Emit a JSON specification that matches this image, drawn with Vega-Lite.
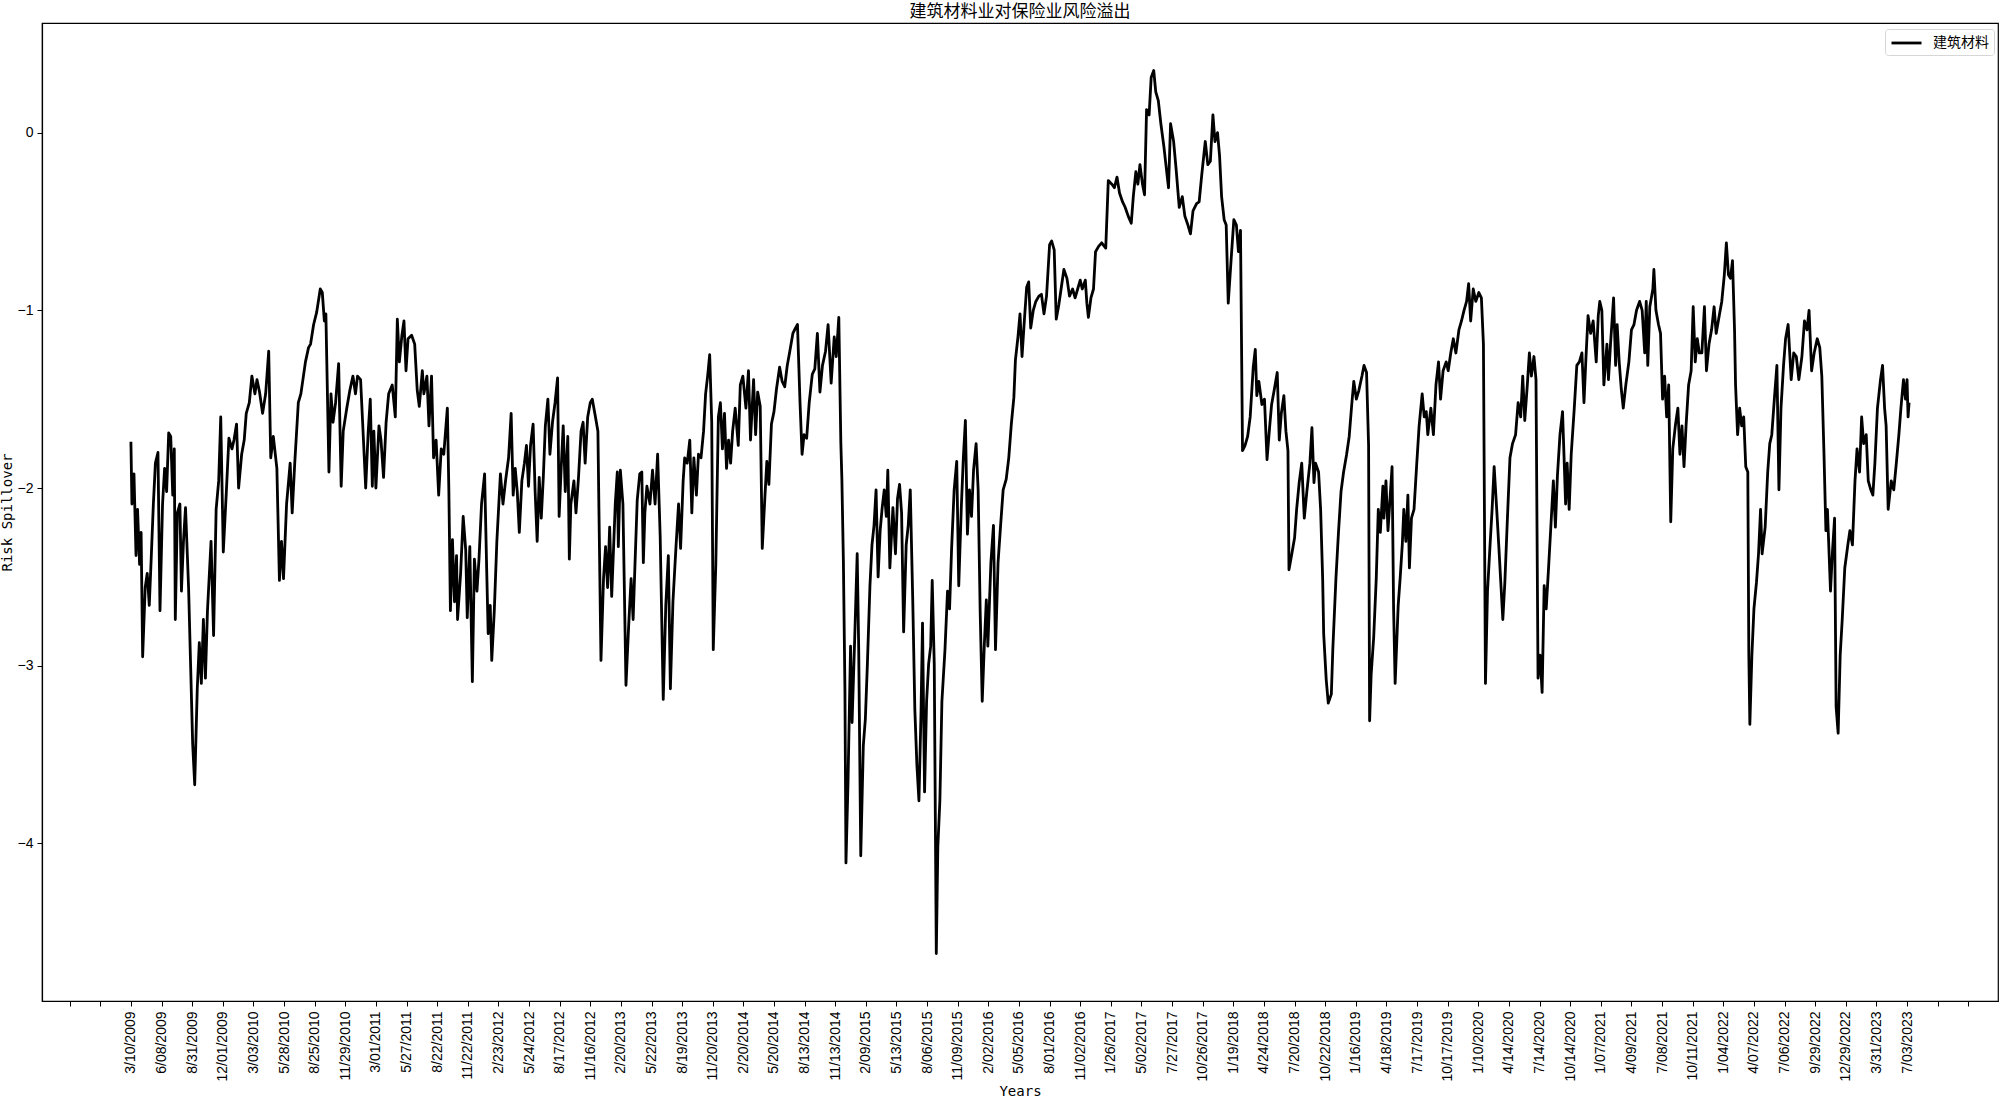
{
"$schema": "https://vega.github.io/schema/vega-lite/v6.json",
"width": 1956,
"height": 978,
"autosize": {"type": "none"},
"padding": {"left": 42, "top": 23, "right": 2, "bottom": 96},
"background": "white",
"title": {"text": "建筑材料业对保险业风险溢出", "font": "Noto Sans CJK SC", "fontSize": 17, "fontWeight": "normal", "color": "black", "anchor": "middle", "baseline": "top", "offset": 2},
"config": {
  "view": {"stroke": "black", "strokeWidth": 1.2},
  "axis": {"grid": false, "domainColor": "black", "domainWidth": 1.2, "tickColor": "black", "tickWidth": 1, "tickSize": 5, "labelColor": "black", "labelFont": "Liberation Sans", "labelFontSize": 14, "titleColor": "black", "titleFont": "DejaVu Sans Mono", "titleFontSize": 14, "titleFontWeight": "normal", "labelOverlap": false, "labelBound": false, "labelFlush": false}
},
"data": {"values": [
{"i":0,"v":-1.74},{"i":2,"v":-2.09},{"i":6,"v":-1.92},{"i":10,"v":-2.38},{"i":13,"v":-2.12},{"i":17,"v":-2.43},{"i":20,"v":-2.25},{"i":23,"v":-2.95},{"i":28,"v":-2.56},{"i":32,"v":-2.48},{"i":36,"v":-2.66},{"i":40,"v":-2.38},{"i":44,"v":-2.09},{"i":48,"v":-1.86},{"i":53,"v":-1.80},{"i":57,"v":-2.69},{"i":62,"v":-2.09},{"i":66,"v":-1.89},{"i":70,"v":-2.02},{"i":74,"v":-1.69},{"i":78,"v":-1.71},{"i":82,"v":-2.04},{"i":85,"v":-1.78},{"i":87,"v":-2.74},{"i":91,"v":-2.14},{"i":96,"v":-2.09},{"i":99,"v":-2.58},{"i":103,"v":-2.30},{"i":107,"v":-2.11},{"i":113,"v":-2.56},{"i":117,"v":-3.00},{"i":121,"v":-3.44},{"i":125,"v":-3.67},{"i":130,"v":-3.13},{"i":134,"v":-2.87},{"i":138,"v":-3.10},{"i":142,"v":-2.74},{"i":146,"v":-3.07},{"i":150,"v":-2.69},{"i":157,"v":-2.30},{"i":162,"v":-2.83},{"i":167,"v":-2.12},{"i":172,"v":-1.96},{"i":176,"v":-1.60},{"i":181,"v":-2.36},{"i":187,"v":-2.02},{"i":192,"v":-1.72},{"i":198,"v":-1.78},{"i":202,"v":-1.73},{"i":207,"v":-1.64},{"i":211,"v":-2.00},{"i":217,"v":-1.81},{"i":222,"v":-1.73},{"i":226,"v":-1.58},{"i":232,"v":-1.52},{"i":237,"v":-1.37},{"i":243,"v":-1.47},{"i":247,"v":-1.39},{"i":252,"v":-1.46},{"i":258,"v":-1.58},{"i":264,"v":-1.47},{"i":270,"v":-1.23},{"i":274,"v":-1.83},{"i":279,"v":-1.71},{"i":286,"v":-1.89},{"i":291,"v":-2.52},{"i":295,"v":-2.30},{"i":299,"v":-2.51},{"i":305,"v":-2.09},{"i":312,"v":-1.86},{"i":316,"v":-2.14},{"i":321,"v":-1.86},{"i":328,"v":-1.52},{"i":333,"v":-1.47},{"i":342,"v":-1.29},{"i":348,"v":-1.21},{"i":352,"v":-1.19},{"i":358,"v":-1.08},{"i":364,"v":-1.01},{"i":371,"v":-0.88},{"i":375,"v":-0.90},{"i":379,"v":-1.06},{"i":382,"v":-1.02},{"i":388,"v":-1.91},{"i":392,"v":-1.47},{"i":396,"v":-1.63},{"i":401,"v":-1.52},{"i":407,"v":-1.30},{"i":412,"v":-1.99},{"i":416,"v":-1.68},{"i":423,"v":-1.55},{"i":429,"v":-1.45},{"i":435,"v":-1.37},{"i":440,"v":-1.47},{"i":444,"v":-1.37},{"i":450,"v":-1.39},{"i":454,"v":-1.63},{"i":460,"v":-2.00},{"i":465,"v":-1.68},{"i":469,"v":-1.50},{"i":473,"v":-1.99},{"i":476,"v":-1.68},{"i":480,"v":-2.00},{"i":486,"v":-1.65},{"i":490,"v":-1.73},{"i":495,"v":-1.94},{"i":500,"v":-1.63},{"i":505,"v":-1.47},{"i":512,"v":-1.42},{"i":518,"v":-1.60},{"i":522,"v":-1.05},{"i":526,"v":-1.29},{"i":531,"v":-1.14},{"i":535,"v":-1.06},{"i":539,"v":-1.34},{"i":543,"v":-1.16},{"i":550,"v":-1.14},{"i":556,"v":-1.19},{"i":561,"v":-1.45},{"i":565,"v":-1.54},{"i":571,"v":-1.34},{"i":574,"v":-1.47},{"i":580,"v":-1.37},{"i":584,"v":-1.65},{"i":589,"v":-1.37},{"i":593,"v":-1.83},{"i":598,"v":-1.73},{"i":603,"v":-2.04},
{"i":608,"v":-1.78},{"i":613,"v":-1.81},{"i":620,"v":-1.55},{"i":623,"v":-2.02},{"i":626,"v":-2.69},{"i":630,"v":-2.29},{"i":634,"v":-2.64},{"i":638,"v":-2.38},{"i":640,"v":-2.74},{"i":646,"v":-2.48},{"i":651,"v":-2.16},{"i":656,"v":-2.35},{"i":659,"v":-2.73},{"i":664,"v":-2.33},{"i":669,"v":-3.09},{"i":673,"v":-2.40},{"i":678,"v":-2.58},{"i":682,"v":-2.40},{"i":687,"v":-2.09},{"i":693,"v":-1.92},{"i":697,"v":-2.45},{"i":700,"v":-2.82},{"i":704,"v":-2.66},{"i":707,"v":-2.97},{"i":712,"v":-2.69},{"i":717,"v":-2.30},{"i":724,"v":-1.92},{"i":729,"v":-2.09},{"i":734,"v":-1.96},{"i":740,"v":-1.83},{"i":745,"v":-1.58},{"i":749,"v":-2.04},{"i":753,"v":-1.89},{"i":757,"v":-2.02},{"i":761,"v":-2.25},{"i":766,"v":-1.96},{"i":771,"v":-1.86},{"i":775,"v":-1.76},{"i":779,"v":-1.99},{"i":783,"v":-1.76},{"i":788,"v":-1.64},{"i":792,"v":-2.02},{"i":796,"v":-2.30},{"i":800,"v":-1.94},{"i":804,"v":-2.17},{"i":808,"v":-1.94},{"i":812,"v":-1.65},{"i":817,"v":-1.50},{"i":821,"v":-1.81},{"i":826,"v":-1.63},{"i":831,"v":-1.52},{"i":836,"v":-1.38},{"i":839,"v":-2.16},{"i":843,"v":-1.89},{"i":847,"v":-1.65},{"i":851,"v":-2.02},{"i":856,"v":-1.71},{"i":859,"v":-2.40},{"i":862,"v":-2.09},{"i":868,"v":-1.96},{"i":872,"v":-2.14},{"i":877,"v":-1.94},{"i":882,"v":-1.68},{"i":886,"v":-1.63},{"i":890,"v":-1.86},{"i":895,"v":-1.60},{"i":900,"v":-1.52},{"i":904,"v":-1.50},{"i":909,"v":-1.58},{"i":915,"v":-1.68},{"i":917,"v":-2.12},{"i":921,"v":-2.97},{"i":926,"v":-2.51},{"i":930,"v":-2.33},{"i":934,"v":-2.56},{"i":938,"v":-2.22},{"i":942,"v":-2.61},{"i":949,"v":-2.09},{"i":953,"v":-1.91},{"i":955,"v":-2.33},{"i":959,"v":-1.90},{"i":964,"v":-2.09},{"i":970,"v":-3.11},{"i":975,"v":-2.79},{"i":980,"v":-2.51},{"i":984,"v":-2.74},{"i":988,"v":-2.40},{"i":992,"v":-2.07},{"i":997,"v":-1.92},{"i":1001,"v":-1.91},{"i":1004,"v":-2.42},{"i":1007,"v":-2.14},{"i":1011,"v":-1.99},{"i":1017,"v":-2.09},{"i":1022,"v":-1.90},{"i":1027,"v":-2.09},{"i":1032,"v":-1.81},{"i":1037,"v":-2.27},{"i":1043,"v":-3.19},{"i":1048,"v":-2.66},{"i":1053,"v":-2.38},{"i":1057,"v":-3.13},{"i":1062,"v":-2.64},{"i":1068,"v":-2.33},{"i":1073,"v":-2.09},{"i":1077,"v":-2.34},{"i":1082,"v":-1.96},{"i":1085,"v":-1.83},{"i":1090,"v":-1.86},{"i":1095,"v":-1.73},{"i":1099,"v":-2.14},{"i":1103,"v":-1.83},{"i":1108,"v":-2.04},{"i":1112,"v":-1.81},{"i":1117,"v":-1.83},{"i":1122,"v":-1.68},{"i":1126,"v":-1.47},{"i":1130,"v":-1.37},{"i":1134,"v":-1.25},{"i":1138,"v":-1.63},{"i":1141,"v":-2.91},{"i":1146,"v":-2.43},{"i":1151,"v":-1.60},{"i":1155,"v":-1.52},{"i":1159,"v":-1.78},{"i":1163,"v":-1.58},{"i":1167,"v":-1.89},{"i":1171,"v":-1.73},{"i":1175,"v":-1.86},{"i":1179,"v":-1.68},{"i":1184,"v":-1.55},{"i":1190,"v":-1.76},{"i":1194,"v":-1.42},{"i":1199,"v":-1.37},{"i":1205,"v":-1.55},{"i":1210,"v":-1.34},{"i":1214,"v":-1.73},{"i":1220,"v":-1.39},
{"i":1224,"v":-1.70},{"i":1228,"v":-1.46},{"i":1233,"v":-1.54},{"i":1237,"v":-2.34},{"i":1242,"v":-2.06},{"i":1246,"v":-1.85},{"i":1250,"v":-1.98},{"i":1255,"v":-1.64},{"i":1260,"v":-1.57},{"i":1265,"v":-1.44},{"i":1271,"v":-1.32},{"i":1276,"v":-1.40},{"i":1281,"v":-1.43},{"i":1286,"v":-1.31},{"i":1291,"v":-1.23},{"i":1297,"v":-1.13},{"i":1302,"v":-1.10},{"i":1306,"v":-1.08},{"i":1311,"v":-1.52},{"i":1315,"v":-1.81},{"i":1319,"v":-1.70},{"i":1324,"v":-1.72},{"i":1329,"v":-1.52},{"i":1335,"v":-1.36},{"i":1340,"v":-1.33},{"i":1345,"v":-1.13},{"i":1350,"v":-1.46},{"i":1355,"v":-1.31},{"i":1361,"v":-1.23},{"i":1366,"v":-1.08},{"i":1372,"v":-1.41},{"i":1378,"v":-1.15},{"i":1382,"v":-1.26},{"i":1387,"v":-1.04},{"i":1391,"v":-1.75},{"i":1393,"v":-1.95},{"i":1396,"v":-2.42},{"i":1399,"v":-3.14},{"i":1401,"v":-4.11},{"i":1405,"v":-3.66},{"i":1410,"v":-2.89},{"i":1413,"v":-3.32},{"i":1418,"v":-2.86},{"i":1423,"v":-2.37},{"i":1426,"v":-2.91},{"i":1430,"v":-4.07},{"i":1435,"v":-3.45},{"i":1439,"v":-3.30},{"i":1443,"v":-2.99},{"i":1448,"v":-2.55},{"i":1452,"v":-2.32},{"i":1456,"v":-2.21},{"i":1460,"v":-2.01},{"i":1464,"v":-2.50},{"i":1468,"v":-2.24},{"i":1472,"v":-2.11},{"i":1476,"v":-2.01},{"i":1480,"v":-2.16},{"i":1483,"v":-1.90},{"i":1487,"v":-2.45},{"i":1493,"v":-2.11},{"i":1498,"v":-2.37},{"i":1502,"v":-2.06},{"i":1506,"v":-1.98},{"i":1510,"v":-2.14},{"i":1514,"v":-2.81},{"i":1519,"v":-2.32},{"i":1523,"v":-2.21},{"i":1527,"v":-2.01},{"i":1532,"v":-2.65},{"i":1536,"v":-3.25},{"i":1540,"v":-3.56},{"i":1544,"v":-3.76},{"i":1548,"v":-3.27},{"i":1551,"v":-2.76},{"i":1555,"v":-3.71},{"i":1559,"v":-3.20},{"i":1563,"v":-2.99},{"i":1567,"v":-2.89},{"i":1570,"v":-2.52},{"i":1574,"v":-2.99},{"i":1578,"v":-4.62},{"i":1581,"v":-4.02},{"i":1585,"v":-3.76},{"i":1589,"v":-3.20},{"i":1595,"v":-2.91},{"i":1600,"v":-2.58},{"i":1604,"v":-2.68},{"i":1608,"v":-2.34},{"i":1613,"v":-2.01},{"i":1618,"v":-1.85},{"i":1622,"v":-2.55},{"i":1627,"v":-2.11},{"i":1631,"v":-1.83},{"i":1635,"v":-1.62},{"i":1639,"v":-2.26},{"i":1643,"v":-2.01},{"i":1647,"v":-2.16},{"i":1651,"v":-1.90},{"i":1656,"v":-1.75},{"i":1660,"v":-2.01},{"i":1664,"v":-2.70},{"i":1668,"v":-3.20},{"i":1672,"v":-2.89},{"i":1676,"v":-2.63},{"i":1679,"v":-2.89},{"i":1685,"v":-2.42},{"i":1690,"v":-2.21},{"i":1694,"v":-2.91},{"i":1699,"v":-2.42},{"i":1704,"v":-2.21},{"i":1709,"v":-2.01},{"i":1715,"v":-1.95},{"i":1720,"v":-1.83},{"i":1725,"v":-1.64},{"i":1730,"v":-1.49},{"i":1733,"v":-1.28},{"i":1738,"v":-1.15},{"i":1742,"v":-1.02},{"i":1746,"v":-1.26},{"i":1750,"v":-1.08},{"i":1755,"v":-0.87},{"i":1759,"v":-0.84},{"i":1763,"v":-1.10},{"i":1768,"v":-1.00},{"i":1773,"v":-0.95},{"i":1779,"v":-0.92},{"i":1784,"v":-0.91},{"i":1789,"v":-1.02},{"i":1794,"v":-0.92},{"i":1800,"v":-0.63},{"i":1804,"v":-0.61},{"i":1809,"v":-0.66},{"i":1813,"v":-1.05},{"i":1818,"v":-0.97},{"i":1823,"v":-0.87},{"i":1828,"v":-0.77},{"i":1834,"v":-0.82},{"i":1839,"v":-0.92},
{"i":1845,"v":-0.88},{"i":1850,"v":-0.93},{"i":1855,"v":-0.88},{"i":1860,"v":-0.83},{"i":1864,"v":-0.88},{"i":1870,"v":-0.83},{"i":1873,"v":-0.96},{"i":1876,"v":-1.04},{"i":1881,"v":-0.93},{"i":1886,"v":-0.88},{"i":1890,"v":-0.67},{"i":1896,"v":-0.64},{"i":1902,"v":-0.62},{"i":1910,"v":-0.65},{"i":1915,"v":-0.27},{"i":1922,"v":-0.29},{"i":1927,"v":-0.31},{"i":1932,"v":-0.25},{"i":1937,"v":-0.34},{"i":1943,"v":-0.39},{"i":1948,"v":-0.42},{"i":1954,"v":-0.47},{"i":1960,"v":-0.51},{"i":1964,"v":-0.36},{"i":1969,"v":-0.22},{"i":1973,"v":-0.29},{"i":1977,"v":-0.18},{"i":1982,"v":-0.29},{"i":1986,"v":-0.35},{"i":1990,"v":0.13},{"i":1995,"v":0.10},{"i":1999,"v":0.31},{"i":2004,"v":0.35},{"i":2008,"v":0.23},{"i":2013,"v":0.18},{"i":2018,"v":0.05},{"i":2024,"v":-0.08},{"i":2029,"v":-0.21},{"i":2033,"v":-0.31},{"i":2037,"v":0.05},{"i":2043,"v":-0.05},{"i":2048,"v":-0.21},{"i":2054,"v":-0.42},{"i":2060,"v":-0.36},{"i":2065,"v":-0.47},{"i":2071,"v":-0.52},{"i":2076,"v":-0.57},{"i":2081,"v":-0.44},{"i":2088,"v":-0.40},{"i":2093,"v":-0.39},{"i":2098,"v":-0.24},{"i":2105,"v":-0.05},{"i":2110,"v":-0.18},{"i":2115,"v":-0.16},{"i":2120,"v":0.10},{"i":2124,"v":-0.05},{"i":2129,"v":0.00},{"i":2133,"v":-0.13},{"i":2137,"v":-0.36},{"i":2142,"v":-0.49},{"i":2146,"v":-0.52},{"i":2150,"v":-0.96},{"i":2156,"v":-0.70},{"i":2161,"v":-0.49},{"i":2166,"v":-0.52},{"i":2170,"v":-0.67},{"i":2174,"v":-0.55},{"i":2178,"v":-1.79},{"i":2183,"v":-1.76},{"i":2188,"v":-1.71},{"i":2193,"v":-1.60},{"i":2199,"v":-1.32},{"i":2203,"v":-1.22},{"i":2206,"v":-1.48},{"i":2210,"v":-1.40},{"i":2216,"v":-1.53},{"i":2221,"v":-1.50},{"i":2226,"v":-1.84},{"i":2231,"v":-1.66},{"i":2235,"v":-1.53},{"i":2240,"v":-1.45},{"i":2246,"v":-1.35},{"i":2250,"v":-1.73},{"i":2254,"v":-1.58},{"i":2259,"v":-1.48},{"i":2263,"v":-1.68},{"i":2267,"v":-1.79},{"i":2269,"v":-2.46},{"i":2274,"v":-2.38},{"i":2280,"v":-2.28},{"i":2284,"v":-2.12},{"i":2289,"v":-1.97},{"i":2294,"v":-1.86},{"i":2299,"v":-2.17},{"i":2304,"v":-2.02},{"i":2310,"v":-1.86},{"i":2314,"v":-1.66},{"i":2318,"v":-1.97},{"i":2321,"v":-1.86},{"i":2327,"v":-1.91},{"i":2331,"v":-2.12},{"i":2335,"v":-2.51},{"i":2337,"v":-2.82},{"i":2342,"v":-3.08},{"i":2346,"v":-3.21},{"i":2352,"v":-3.16},{"i":2355,"v":-2.90},{"i":2361,"v":-2.51},{"i":2366,"v":-2.25},{"i":2371,"v":-2.02},{"i":2376,"v":-1.91},{"i":2382,"v":-1.81},{"i":2387,"v":-1.71},{"i":2392,"v":-1.53},{"i":2396,"v":-1.40},{"i":2401,"v":-1.50},{"i":2406,"v":-1.45},{"i":2412,"v":-1.37},{"i":2416,"v":-1.31},{"i":2421,"v":-1.35},{"i":2425,"v":-1.76},{"i":2427,"v":-3.31},{"i":2430,"v":-3.05},{"i":2435,"v":-2.84},{"i":2440,"v":-2.51},{"i":2444,"v":-2.12},{"i":2448,"v":-2.25},{"i":2453,"v":-1.99},
{"i":2455,"v":-2.17},{"i":2459,"v":-1.96},{"i":2463,"v":-2.24},{"i":2467,"v":-2.06},{"i":2471,"v":-1.88},{"i":2474,"v":-2.68},{"i":2477,"v":-3.10},{"i":2483,"v":-2.66},{"i":2487,"v":-2.50},{"i":2491,"v":-2.32},{"i":2494,"v":-2.12},{"i":2498,"v":-2.30},{"i":2502,"v":-2.04},{"i":2505,"v":-2.45},{"i":2509,"v":-2.17},{"i":2514,"v":-2.12},{"i":2519,"v":-1.88},{"i":2524,"v":-1.65},{"i":2530,"v":-1.47},{"i":2534,"v":-1.60},{"i":2538,"v":-1.57},{"i":2541,"v":-1.70},{"i":2547,"v":-1.55},{"i":2552,"v":-1.70},{"i":2557,"v":-1.42},{"i":2562,"v":-1.29},{"i":2566,"v":-1.50},{"i":2571,"v":-1.34},{"i":2577,"v":-1.29},{"i":2581,"v":-1.34},{"i":2586,"v":-1.24},{"i":2591,"v":-1.16},{"i":2596,"v":-1.24},{"i":2602,"v":-1.11},{"i":2607,"v":-1.06},{"i":2612,"v":-1.00},{"i":2617,"v":-0.95},{"i":2621,"v":-0.85},{"i":2625,"v":-1.06},{"i":2630,"v":-0.88},{"i":2635,"v":-0.95},{"i":2641,"v":-0.90},{"i":2646,"v":-0.93},{"i":2650,"v":-1.19},{"i":2654,"v":-3.10},{"i":2658,"v":-2.58},{"i":2663,"v":-2.32},{"i":2667,"v":-2.12},{"i":2671,"v":-1.88},{"i":2676,"v":-2.12},{"i":2680,"v":-2.32},{"i":2684,"v":-2.53},{"i":2688,"v":-2.74},{"i":2692,"v":-2.53},{"i":2697,"v":-2.17},{"i":2702,"v":-1.83},{"i":2707,"v":-1.75},{"i":2713,"v":-1.70},{"i":2718,"v":-1.52},{"i":2723,"v":-1.60},{"i":2727,"v":-1.37},{"i":2731,"v":-1.62},{"i":2736,"v":-1.42},{"i":2740,"v":-1.24},{"i":2744,"v":-1.37},{"i":2749,"v":-1.26},{"i":2753,"v":-1.39},{"i":2757,"v":-3.07},{"i":2761,"v":-2.94},{"i":2765,"v":-3.15},{"i":2769,"v":-2.55},{"i":2773,"v":-2.68},{"i":2778,"v":-2.43},{"i":2783,"v":-2.17},{"i":2787,"v":-1.96},{"i":2791,"v":-2.22},{"i":2795,"v":-1.93},{"i":2800,"v":-1.70},{"i":2805,"v":-1.57},{"i":2811,"v":-2.09},{"i":2814,"v":-1.86},{"i":2818,"v":-2.12},{"i":2822,"v":-1.81},{"i":2828,"v":-1.55},{"i":2833,"v":-1.31},{"i":2838,"v":-1.29},{"i":2843,"v":-1.24},{"i":2847,"v":-1.52},{"i":2851,"v":-1.26},{"i":2855,"v":-1.03},{"i":2860,"v":-1.13},{"i":2865,"v":-1.06},{"i":2871,"v":-1.29},{"i":2875,"v":-1.03},{"i":2878,"v":-0.95},{"i":2882,"v":-1.00},{"i":2886,"v":-1.42},{"i":2892,"v":-1.19},{"i":2895,"v":-1.39},{"i":2899,"v":-1.19},{"i":2905,"v":-0.93},{"i":2909,"v":-1.31},{"i":2912,"v":-1.08},{"i":2916,"v":-1.29},{"i":2920,"v":-1.44},{"i":2924,"v":-1.55},{"i":2929,"v":-1.42},{"i":2935,"v":-1.29},{"i":2940,"v":-1.11},{"i":2945,"v":-1.08},{"i":2950,"v":-1.00},{"i":2956,"v":-0.95},{"i":2961,"v":-1.00},{"i":2966,"v":-1.24},{"i":2969,"v":-0.95},{"i":2972,"v":-1.31},{"i":2976,"v":-0.98},{"i":2982,"v":-0.88},{"i":2984,"v":-0.77},{"i":2988,"v":-1.00},{"i":2993,"v":-1.08},{"i":2997,"v":-1.13},{"i":3001,"v":-1.50},{"i":3005,"v":-1.37},{"i":3009,"v":-1.60},{"i":3013,"v":-1.42},{"i":3017,"v":-2.19},{"i":3021,"v":-1.78},{"i":3026,"v":-1.65},{"i":3031,"v":-1.55},{"i":3035,"v":-1.81},{"i":3039,"v":-1.65},{"i":3043,"v":-1.88},{"i":3047,"v":-1.65},{"i":3052,"v":-1.42},{"i":3057,"v":-1.34},{"i":3061,"v":-0.98},{"i":3065,"v":-1.29},{"i":3069,"v":-1.16},{"i":3073,"v":-1.24},
{"i":3078,"v":-1.24},{"i":3083,"v":-0.98},{"i":3087,"v":-1.34},{"i":3092,"v":-1.19},{"i":3097,"v":-1.11},{"i":3102,"v":-0.98},{"i":3106,"v":-1.13},{"i":3112,"v":-1.03},{"i":3117,"v":-0.95},{"i":3122,"v":-0.80},{"i":3126,"v":-0.62},{"i":3130,"v":-0.80},{"i":3134,"v":-0.82},{"i":3138,"v":-0.72},{"i":3142,"v":-1.11},{"i":3144,"v":-1.42},{"i":3148,"v":-1.70},{"i":3152,"v":-1.55},{"i":3156,"v":-1.65},{"i":3160,"v":-1.60},{"i":3164,"v":-1.88},{"i":3168,"v":-1.91},{"i":3170,"v":-2.94},{"i":3172,"v":-3.33},{"i":3176,"v":-2.94},{"i":3180,"v":-2.68},{"i":3185,"v":-2.53},{"i":3189,"v":-2.37},{"i":3193,"v":-2.12},{"i":3196,"v":-2.37},{"i":3202,"v":-2.22},{"i":3207,"v":-1.91},{"i":3211,"v":-1.75},{"i":3215,"v":-1.70},{"i":3220,"v":-1.50},{"i":3225,"v":-1.31},{"i":3229,"v":-2.01},{"i":3233,"v":-1.55},{"i":3238,"v":-1.31},{"i":3242,"v":-1.16},{"i":3247,"v":-1.08},{"i":3253,"v":-1.39},{"i":3258,"v":-1.24},{"i":3263,"v":-1.26},{"i":3268,"v":-1.39},{"i":3274,"v":-1.26},{"i":3279,"v":-1.06},{"i":3284,"v":-1.11},{"i":3288,"v":-1.00},{"i":3293,"v":-1.34},{"i":3298,"v":-1.24},{"i":3304,"v":-1.16},{"i":3309,"v":-1.21},{"i":3313,"v":-1.37},{"i":3317,"v":-1.78},{"i":3321,"v":-2.24},{"i":3324,"v":-2.12},{"i":3330,"v":-2.58},{"i":3334,"v":-2.35},{"i":3338,"v":-2.17},{"i":3341,"v":-3.23},{"i":3345,"v":-3.38},{"i":3349,"v":-2.94},{"i":3353,"v":-2.74},{"i":3358,"v":-2.45},{"i":3364,"v":-2.32},{"i":3368,"v":-2.24},{"i":3373,"v":-2.32},{"i":3378,"v":-1.96},{"i":3382,"v":-1.78},{"i":3387,"v":-1.91},{"i":3391,"v":-1.60},{"i":3395,"v":-1.75},{"i":3400,"v":-1.70},{"i":3404,"v":-1.96},{"i":3409,"v":-2.01},{"i":3413,"v":-2.04},{"i":3417,"v":-1.86},{"i":3422,"v":-1.55},{"i":3428,"v":-1.39},{"i":3432,"v":-1.31},{"i":3436,"v":-1.55},{"i":3439,"v":-1.65},{"i":3443,"v":-2.12},{"i":3449,"v":-1.96},{"i":3454,"v":-2.01},{"i":3459,"v":-1.86},{"i":3464,"v":-1.70},{"i":3468,"v":-1.55},{"i":3473,"v":-1.39},{"i":3477,"v":-1.50},{"i":3480,"v":-1.39},{"i":3482,"v":-1.60},{"i":3484,"v":-1.52}
]},
"mark": {"type": "line", "strokeWidth": 2.8, "strokeJoin": "round", "clip": true},
"encoding": {
  "x": {"field": "i", "type": "quantitative",
    "scale": {"domain": [-174.2, 3658.2], "nice": false, "zero": false},
    "axis": {"values": [-120,-60,0,60,120,180,240,300,360,420,480,540,600,660,720,780,840,900,960,1020,1080,1140,1200,1260,1320,1380,1440,1500,1560,1620,1680,1740,1800,1860,1920,1980,2040,2100,2160,2220,2280,2340,2400,2460,2520,2580,2640,2700,2760,2820,2880,2940,3000,3060,3120,3180,3240,3300,3360,3420,3480,3540,3600],
      "labelExpr": "datum.value < 0 || datum.value > 3480 ? '' : ['3/10/2009','6/08/2009','8/31/2009','12/01/2009','3/03/2010','5/28/2010','8/25/2010','11/29/2010','3/01/2011','5/27/2011','8/22/2011','11/22/2011','2/23/2012','5/24/2012','8/17/2012','11/16/2012','2/20/2013','5/22/2013','8/19/2013','11/20/2013','2/20/2014','5/20/2014','8/13/2014','11/13/2014','2/09/2015','5/13/2015','8/06/2015','11/09/2015','2/02/2016','5/05/2016','8/01/2016','11/02/2016','1/26/2017','5/02/2017','7/27/2017','10/26/2017','1/19/2018','4/24/2018','7/20/2018','10/22/2018','1/16/2019','4/18/2019','7/17/2019','10/17/2019','1/10/2020','4/14/2020','7/14/2020','10/14/2020','1/07/2021','4/09/2021','7/08/2021','10/11/2021','1/04/2022','4/07/2022','7/06/2022','9/29/2022','12/29/2022','3/31/2023','7/03/2023'][round(datum.value / 60)]",
      "labelAngle": 270, "labelPadding": 5,
      "title": "Years", "titleX": 978, "titleY": 94, "titleAlign": "center", "titleBaseline": "alphabetic", "titleAngle": 0}},
  "y": {"field": "v", "type": "quantitative",
    "scale": {"domain": [-4.887, 0.617], "nice": false, "zero": false},
    "axis": {"values": [-4,-3,-2,-1,0], "format": "d", "labelPadding": 4,
      "title": "Risk Spillover", "titleX": -35, "titleY": 489, "titleAngle": 270, "titleAlign": "center", "titleBaseline": "middle"}},
  "color": {"datum": "建筑材料", "type": "nominal",
    "scale": {"range": ["black"]},
    "legend": {"title": null, "orient": "none", "legendX": 1843, "legendY": 6, "symbolType": "M-1,0H3", "symbolSize": 225, "symbolStrokeWidth": 2.8, "symbolFillColor": "transparent", "labelFont": "Noto Sans CJK SC", "labelFontSize": 14, "labelColor": "black", "labelOffset": 25, "padding": 5, "fillColor": "white", "strokeColor": "#d6d6d6", "cornerRadius": 3}}
}
}
